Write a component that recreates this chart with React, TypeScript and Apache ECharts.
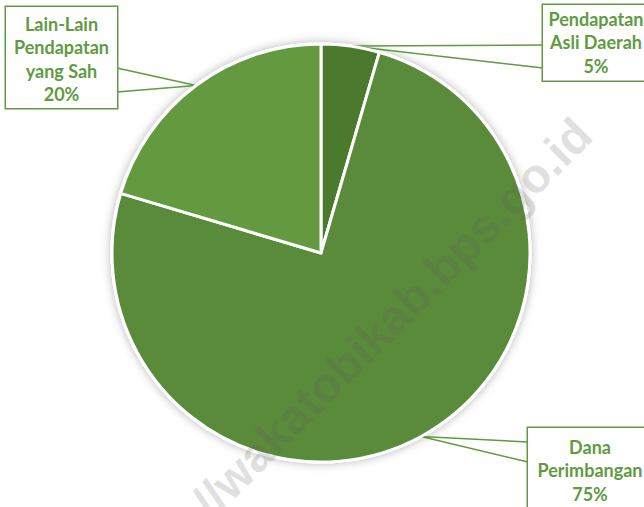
import React, { useEffect, useRef } from "react";
import * as echarts from "echarts";

const categories = ["Pendapatan\nAsli Daerah", "Dana\nPerimbangan", "Lain-Lain\nPendapatan\nyang Sah"];
const values = [4.5, 75.1, 20.4];
const sliceColors = ["#4b7a2e", "#5a8b3a", "#63993f"];
const watermark = "//wakatobikab.bps.go.id";

// callout boxes: center x, top y, width, padding, wedge edge x, wedge y1/y2
const boxes = [
  { cx: 596, y: 5, w: 106, pad: [2, 0, 3, 0], ex: 543, ey1: 45, ey2: 68 },
  { cx: 590, y: 428, w: 124, pad: [7, 0, 10, 0], ex: 528, ey1: 442, ey2: 462 },
  { cx: 61.5, y: 7, w: 111, pad: [5, 0, 2, 0], ex: 117, ey1: 68, ey2: 92 },
];

const GREEN = "#5f9b3f";

export default function App() {
  const ref = useRef<HTMLDivElement>(null);
  useEffect(() => {
    document.body.style.margin = "0";
    if (!ref.current) return;
    const chart = echarts.init(ref.current, null, { renderer: "svg" });
    const total = values.reduce((a, b) => a + b, 0);
    chart.setOption({
      animation: false,
      backgroundColor: "#ffffff",
      series: [
        {
          type: "pie",
          silent: true,
          center: [321, 253],
          radius: 209,
          z: 1,
          label: { show: false },
          labelLine: { show: false },
          itemStyle: {
            color: "#ffffff",
            borderColor: "#ffffff",
            borderWidth: 3,
            shadowBlur: 10,
            shadowColor: "rgba(0,0,0,0.3)",
          },
          data: [{ value: total, name: "" }],
        },
        {
          type: "pie",
          center: [321, 253],
          radius: 209,
          startAngle: 90,
          clockwise: true,
          z: 2,
          percentPrecision: 0,
          itemStyle: { borderColor: "#ffffff", borderWidth: 3 },
          label: {
            show: true,
            position: "outside",
            formatter: "{b}\n{d}%",
            fontFamily: "Lato",
            fontWeight: "bold",
            fontSize: 18,
            lineHeight: 23.5,
            color: GREEN,
            backgroundColor: "#ffffff",
            borderColor: GREEN,
            borderWidth: 1.5,
            align: "center",
          },
          labelLine: {
            show: true,
            length: 20,
            length2: 20,
            lineStyle: { color: GREEN, width: 1.5 },
          },
          labelLayout: (params: any) => {
            const b = boxes[params.dataIndex];
            const tip = params.labelLinePoints ? params.labelLinePoints[0] : [b.ex, (b.ey1 + b.ey2) / 2];
            return {
              x: b.cx,
              y: b.y,
              align: "center",
              verticalAlign: "top",
              labelLinePoints: [
                [b.ex, b.ey1],
                tip,
                [b.ex, b.ey2],
              ],
            };
          },
          data: categories.map((name, i) => ({
            name,
            value: values[i],
            itemStyle: { color: sliceColors[i] },
            label: { width: boxes[i].w, padding: boxes[i].pad },
          })),
        },
      ],
      graphic: [
        {
          type: "text",
          x: 392,
          y: 318,
          rotation: Math.PI / 4,
          z: 100,
          silent: true,
          style: {
            text: watermark,
            fontFamily: "Liberation Sans",
            fontWeight: "bold",
            fontSize: 48,
            fill: "rgba(90,90,90,0.2)",
            align: "center",
            verticalAlign: "middle",
          },
        },
      ],
    });
    return () => chart.dispose();
  }, []);
  return <div ref={ref} style={{ width: 644, height: 507 }} />;
}
